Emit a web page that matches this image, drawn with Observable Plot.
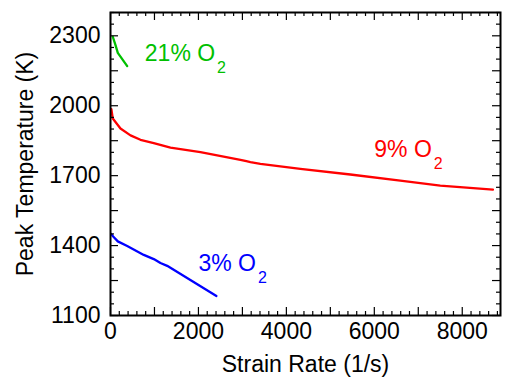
<!DOCTYPE html>
<html>
<head>
<meta charset="utf-8">
<script src="https://cdn.jsdelivr.net/npm/d3@7"></script>
<script src="https://cdn.jsdelivr.net/npm/@observablehq/plot@0.6"></script>
<style>
  body { margin: 0; background: #fff; }
  #chart svg { display: block; }
</style>
</head>
<body>
<div id="chart"></div>
<script>
// Peak flame temperature versus strain rate for three oxygen levels
const strainRate21 = [52, 114, 166, 380];
const peakTemp21   = [2296, 2260, 2227, 2170];

const strainRate9 = [20, 52, 227, 455, 682, 984, 1364, 2045, 2955, 3090, 3182, 3409, 4318, 5455, 6591, 7500, 8698];
const peakTemp9   = [1985, 1945, 1902, 1873, 1854, 1840, 1820, 1801, 1768, 1762, 1758, 1751, 1729, 1705, 1679, 1657, 1640];

const strainRate3 = [15, 61, 166, 380, 757, 984, 1136, 1289, 2409];
const peakTemp3   = [1450, 1439, 1418, 1398, 1360, 1342, 1325, 1313, 1184];

// Series labels: main text, subscript, anchor position in data units, colour
const seriesNames  = ["21% O", "9% O", "3% O"];
const seriesSubs   = ["2", "2", "2"];
const labelX       = [780, 6000, 2000];
const labelY       = [2191, 1778, 1289];
const seriesColors = ["#00c000", "#ff0000", "#0000ff"];

// Axis ticks
const xLabelTicks = [0, 2000, 4000, 6000, 8000];
const xMajorTicks = [0, 1000, 2000, 3000, 4000, 5000, 6000, 7000, 8000];
const xMinorTicks = d3.range(0, 8801, 200).filter(v => v % 1000 !== 0);
const yLabelTicks = [1100, 1400, 1700, 2000, 2300];
const yMajorTicks = [1100, 1250, 1400, 1550, 1700, 1850, 2000, 2150, 2300];
const yMinorTicks = d3.range(1100, 2401, 50).filter(v => (v - 1100) % 150 !== 0);

const xDomain = [0, 8870];
const yDomain = [1100, 2400];

const W = 505, H = 385;
const M = {top: 12, right: 5, bottom: 70, left: 110};
const innerW = W - M.left - M.right;
const innerH = H - M.top - M.bottom;
const majorLen = 8, minorLen = 4;
const font = "Liberation Sans, Arial, Helvetica, sans-serif";

const toRows = (xs, ys) => xs.map((x, i) => ({x, y: ys[i]}));
const series = [
  {rows: toRows(strainRate21, peakTemp21), color: seriesColors[0]},
  {rows: toRows(strainRate9, peakTemp9), color: seriesColors[1]},
  {rows: toRows(strainRate3, peakTemp3), color: seriesColors[2]}
];

// Inward ticks on all four sides of the box
function tickMarks(values, len, sw) {
  return [
    Plot.ruleX(values, {x: d => d, insetTop: innerH - len, stroke: "black", strokeWidth: sw}),
    Plot.ruleX(values, {x: d => d, insetBottom: innerH - len, stroke: "black", strokeWidth: sw})
  ];
}
function tickMarksY(values, len, sw) {
  return [
    Plot.ruleY(values, {y: d => d, insetRight: innerW - len, stroke: "black", strokeWidth: sw}),
    Plot.ruleY(values, {y: d => d, insetLeft: innerW - len, stroke: "black", strokeWidth: sw})
  ];
}

const chart = Plot.plot({
  width: W,
  height: H,
  marginTop: M.top,
  marginRight: M.right,
  marginBottom: M.bottom,
  marginLeft: M.left,
  style: {fontFamily: font, fontSize: "23px", color: "black", background: "white"},
  x: {domain: xDomain},
  y: {domain: yDomain},
  marks: [
    ...series.map(s => Plot.line(s.rows, {x: "x", y: "y", stroke: s.color, strokeWidth: 2.3})),
    ...seriesNames.map((name, i) => Plot.text([name], {
      x: () => labelX[i], y: () => labelY[i], text: d => d,
      fill: seriesColors[i], fontSize: 23, textAnchor: "start", lineAnchor: "bottom"
    })),
    ...tickMarks(xMajorTicks, majorLen, 1.2),
    ...tickMarks(xMinorTicks, minorLen, 1.2),
    ...tickMarksY(yMajorTicks, majorLen, 1.2),
    ...tickMarksY(yMinorTicks, minorLen, 1.2),
    Plot.frame({stroke: "black", strokeWidth: 2}),
    Plot.axisX({ticks: xLabelTicks, tickSize: 0, tickPadding: 7, fontSize: 23, tickFormat: d => String(d), label: null}),
    Plot.axisY({ticks: yLabelTicks, tickSize: 0, tickPadding: 10, fontSize: 23, tickFormat: d => String(d), label: null}),
    Plot.text(["Strain Rate (1/s)"], {frameAnchor: "bottom", dy: 56, lineAnchor: "bottom", textAnchor: "middle", text: d => d, fontSize: 23}),
    Plot.text(["Peak Temperature (K)"], {frameAnchor: "left", rotate: -90, dx: -78, lineAnchor: "bottom", textAnchor: "middle", text: d => d, fontSize: 23})
  ]
});

// Append the lowered "2" of O2 to each series label
chart.querySelectorAll("text").forEach(t => {
  const i = seriesNames.indexOf(t.textContent);
  if (i < 0) return;
  const sub = document.createElementNS("http://www.w3.org/2000/svg", "tspan");
  sub.setAttribute("dx", "2");
  sub.setAttribute("dy", "12");
  sub.setAttribute("font-size", "16");
  sub.textContent = seriesSubs[i];
  t.appendChild(sub);
});

document.getElementById("chart").appendChild(chart);
</script>
</body>
</html>
